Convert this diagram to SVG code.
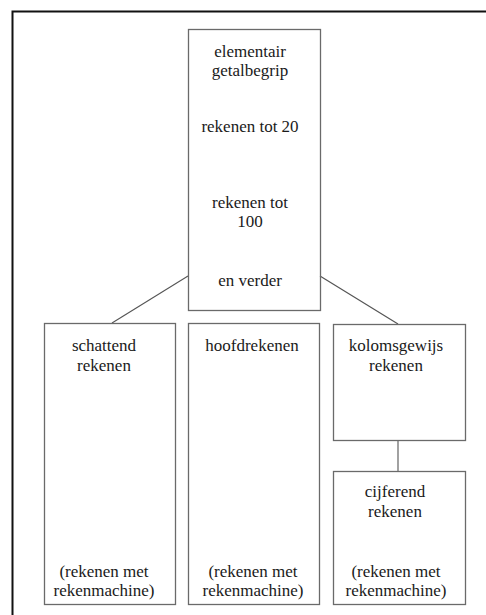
<svg xmlns="http://www.w3.org/2000/svg" width="486" height="615" viewBox="0 0 486 615">
<style>
.box{fill:none;stroke:#6a6a6a;stroke-width:1.3}
.ln{fill:none;stroke:#555;stroke-width:1.1}
text{font-family:"Liberation Serif","DejaVu Serif",serif;font-size:17px;fill:#1a1a1a;text-anchor:middle}
</style>
<rect width="486" height="615" fill="#fff"/>
<path d="M12.5,615 V11.5 H486" fill="none" stroke="#111" stroke-width="2"/>
<g id="connectors">
<line class="ln" x1="188" y1="276" x2="112" y2="323"/>
<line class="ln" x1="320" y1="276" x2="398" y2="324"/>
<line class="ln" x1="398" y1="440" x2="398" y2="471"/>
</g>
<g id="top">
<rect class="box" x="188.5" y="29.5" width="132" height="281"/>
<text x="250" y="57">elementair</text>
<text x="250" y="76">getalbegrip</text>
<text x="250" y="132">rekenen tot 20</text>
<text x="250" y="208">rekenen tot</text>
<text x="250" y="227">100</text>
<text x="250" y="286">en verder</text>
</g>
<g id="schattend">
<rect class="box" x="44.5" y="323.5" width="131" height="281"/>
<text x="104" y="351">schattend</text>
<text x="104" y="371">rekenen</text>
<text x="104" y="577">(rekenen met</text>
<text x="104" y="596">rekenmachine)</text>
</g>
<g id="hoofdrekenen">
<rect class="box" x="188.5" y="323.5" width="131" height="281"/>
<text x="252" y="351">hoofdrekenen</text>
<text x="253" y="577">(rekenen met</text>
<text x="253" y="596">rekenmachine)</text>
</g>
<g id="kolomsgewijs">
<rect class="box" x="333.5" y="324.5" width="132" height="116"/>
<text x="396" y="351">kolomsgewijs</text>
<text x="396" y="371">rekenen</text>
</g>
<g id="cijferend">
<rect class="box" x="333.5" y="471.5" width="132" height="133"/>
<text x="395" y="497">cijferend</text>
<text x="395" y="517">rekenen</text>
<text x="396" y="577">(rekenen met</text>
<text x="396" y="596">rekenmachine)</text>
</g>
</svg>
